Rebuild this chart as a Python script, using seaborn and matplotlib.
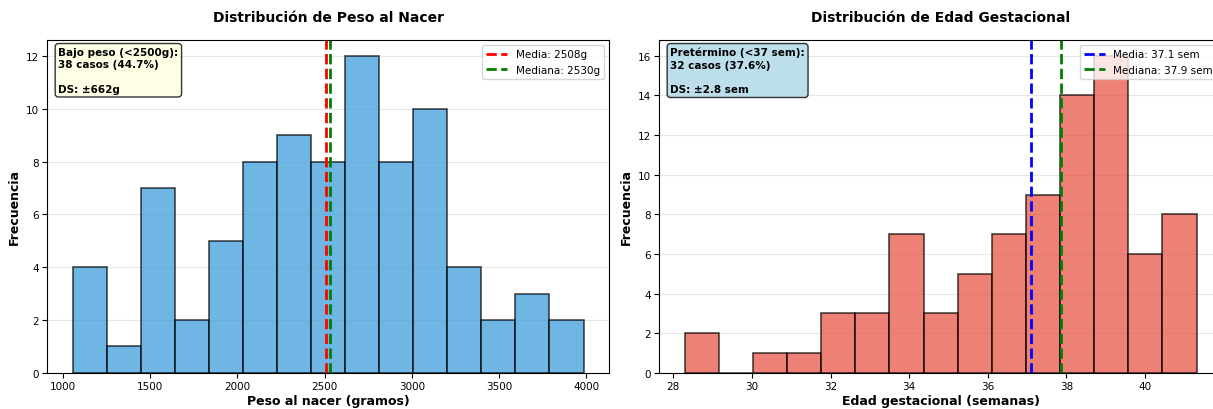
import numpy as np
import matplotlib
matplotlib.use("Agg")
import matplotlib.pyplot as plt
from matplotlib.colors import to_rgba
import seaborn as sns

# Birth weight histogram
peso_edges = [1055.0, 1250.3, 1445.7, 1641.0, 1836.3, 2031.7, 2227.0, 2422.3, 2617.7,
              2813.0, 3008.3, 3203.7, 3399.0, 3594.3, 3789.7, 3985.0]
peso_counts = [4, 1, 7, 2, 5, 8, 9, 8, 12, 8, 10, 4, 2, 3, 2]
peso_media = 2508
peso_mediana = 2530
peso_ds = 662
bajo_peso_n = 38
bajo_peso_pct = 44.7

# Gestational age histogram
edad_edges = [28.29, 29.158, 30.026, 30.894, 31.762, 32.63, 33.498, 34.366, 35.234,
              36.102, 36.97, 37.838, 38.706, 39.574, 40.442, 41.31]
edad_counts = [2, 0, 1, 1, 3, 3, 7, 3, 5, 7, 9, 14, 16, 6, 8]
edad_media = 37.1
edad_mediana = 37.87
edad_ds = 2.8
pret_n = 32
pret_pct = 37.6

fig = plt.figure(figsize=(12.13, 4.10), dpi=100)
ax1 = fig.add_axes([0.0388, 0.088, 0.4633, 0.812])
ax2 = fig.add_axes([0.5433, 0.088, 0.4643, 0.812])

edge_col = to_rgba("black", 0.7)


def centers(edges):
    e = np.asarray(edges)
    return (e[:-1] + e[1:]) / 2


def style(ax, title, xlabel):
    ax.set_title(title, fontsize=10, fontweight="bold", pad=14)
    ax.set_xlabel(xlabel, fontsize=9, fontweight="bold", labelpad=2)
    ax.set_ylabel("Frecuencia", fontsize=9, fontweight="bold", labelpad=3)
    ax.legend(loc="upper right", fontsize=7.5)
    ax.grid(axis="y", alpha=0.3)
    ax.set_axisbelow(True)
    ax.tick_params(labelsize=7.5, pad=2.5)


sns.histplot(x=centers(peso_edges), weights=peso_counts, bins=peso_edges,
             color="#3498db", alpha=0.7, edgecolor=edge_col, linewidth=1.2, ax=ax1)
ax1.axvline(peso_media, color="red", linestyle="--", linewidth=2, label=f"Media: {peso_media}g")
ax1.axvline(peso_mediana, color="green", linestyle="--", linewidth=2, label=f"Mediana: {peso_mediana}g")
style(ax1, "Distribución de Peso al Nacer", "Peso al nacer (gramos)")
ax1.text(0.02, 0.98,
         f"Bajo peso (<2500g):\n{bajo_peso_n} casos ({bajo_peso_pct}%)\n\nDS: ±{peso_ds}g",
         transform=ax1.transAxes, va="top", ha="left", fontsize=7.5, fontweight="bold",
         linespacing=1.3,
         bbox=dict(boxstyle="round", facecolor="lightyellow", alpha=0.8))

sns.histplot(x=centers(edad_edges), weights=edad_counts, bins=edad_edges,
             color="#e74c3c", alpha=0.7, edgecolor=edge_col, linewidth=1.2, ax=ax2)
ax2.axvline(edad_media, color="blue", linestyle="--", linewidth=2, label=f"Media: {edad_media} sem")
ax2.axvline(edad_mediana, color="green", linestyle="--", linewidth=2, label="Mediana: 37.9 sem")
style(ax2, "Distribución de Edad Gestacional", "Edad gestacional (semanas)")
ax2.text(0.02, 0.98,
         f"Pretérmino (<37 sem):\n{pret_n} casos ({pret_pct}%)\n\nDS: ±{edad_ds} sem",
         transform=ax2.transAxes, va="top", ha="left", fontsize=7.5, fontweight="bold",
         linespacing=1.3,
         bbox=dict(boxstyle="round", facecolor="lightblue", alpha=0.8))

fig.savefig("out.png", dpi=100)
